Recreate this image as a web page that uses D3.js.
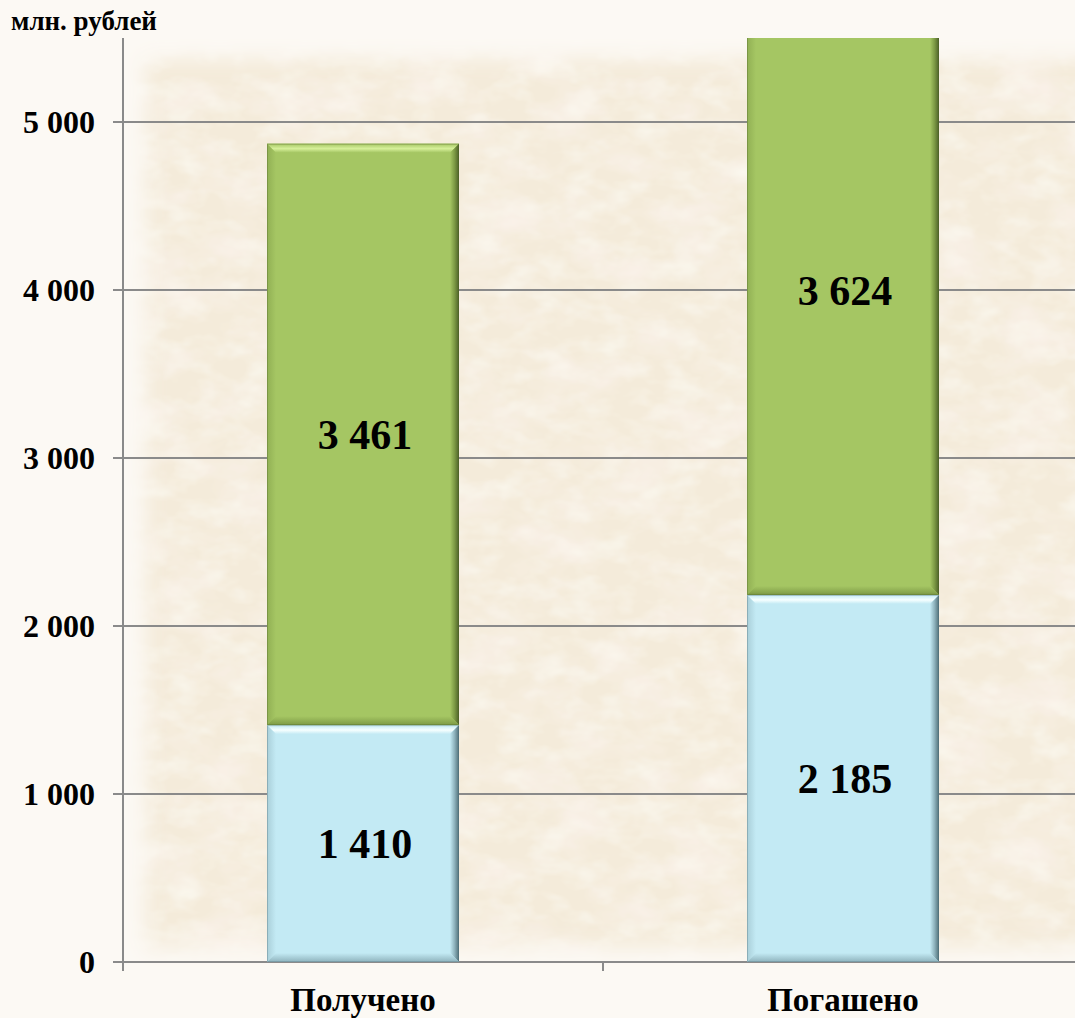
<!DOCTYPE html>
<html><head><meta charset="utf-8">
<script src="https://cdn.jsdelivr.net/npm/d3@7"></script>
<style>html,body{margin:0;padding:0;background:#fcf9f4;}svg{display:block;}</style>
</head><body>
<script>
const categories = ["Получено", "Погашено"];
const seriesBottom = [1410, 2185];
const seriesTop = [3461, 3624];
const yTicks = [0, 1000, 2000, 3000, 4000, 5000];
const unitLabel = "млн. рублей";

const W = 1075, H = 1018;
const m = {left: 123, top: 38, bottom: 962, right: 1083};
const FONT = "'Liberation Serif','Times New Roman',Times,serif";
const svg = d3.select("body").append("svg").attr("width", W).attr("height", H);
const defs = svg.append("defs");

// parchment filter: mottled colour, feathered edges
const f = defs.append("filter").attr("id","parch").attr("filterUnits","userSpaceOnUse")
  .attr("x",100).attr("y",20).attr("width",1000).attr("height",970);
f.append("feGaussianBlur").attr("in","SourceAlpha").attr("stdDeviation",10).attr("result","a");
f.append("feFlood").attr("flood-color","#f4ebda").attr("result","base");
f.append("feTurbulence").attr("type","fractalNoise").attr("baseFrequency","0.015 0.025").attr("numOctaves",4).attr("seed",11).attr("result","n");
f.append("feColorMatrix").attr("in","n").attr("type","matrix")
  .attr("values","0 0 0 0 0.97  0 0 0 0 0.90  0 0 0 0 0.85  0 0 0 1.6 -0.7").attr("result","pink");
f.append("feTurbulence").attr("type","fractalNoise").attr("baseFrequency","0.03 0.05").attr("numOctaves",3).attr("seed",3).attr("result","n2");
f.append("feColorMatrix").attr("in","n2").attr("type","matrix")
  .attr("values","0 0 0 0 0.965  0 0 0 0 0.945  0 0 0 0 0.87  0 0 0 1.5 -0.65").attr("result","cream");
f.append("feComposite").attr("in","pink").attr("in2","base").attr("operator","over").attr("result","b1");
f.append("feComposite").attr("in","cream").attr("in2","b1").attr("operator","over").attr("result","tex");
f.append("feComposite").attr("in","tex").attr("in2","a").attr("operator","in");

const y = d3.scaleLinear().domain([0, 5500]).range([m.bottom, m.top]);
const x = d3.scaleBand().domain(categories).range([m.left, m.right]).paddingInner(0.6).paddingOuter(0.3);

// parchment background
svg.append("rect").attr("x",145).attr("y",58).attr("width",960).attr("height",890)
  .attr("fill","#000").attr("filter","url(#parch)");

// gridlines
svg.append("g").selectAll("line").data(yTicks).join("line")
  .attr("x1", m.left - 10).attr("x2", W).attr("y1", d => y(d)).attr("y2", d => y(d))
  .attr("stroke", "#8a8a8a").attr("stroke-width", 2);

// y axis line
svg.append("line").attr("x1", m.left).attr("x2", m.left).attr("y1", m.top).attr("y2", m.bottom + 9)
  .attr("stroke","#8a8a8a").attr("stroke-width",2);

// category ticks
const step = x.step(), pad = (step - x.bandwidth())/2;
svg.append("g").selectAll("line").data(categories.slice(1)).join("line")
  .attr("x1", d => x(d) - pad).attr("x2", d => x(d) - pad)
  .attr("y1", m.bottom).attr("y2", m.bottom + 9).attr("stroke","#8a8a8a").attr("stroke-width",2);

// gradients for bevels
function grad(id, x1,y1,x2,y2, stops){
  const g = defs.append("linearGradient").attr("id",id).attr("x1",x1).attr("y1",y1).attr("x2",x2).attr("y2",y2);
  stops.forEach(s => g.append("stop").attr("offset",s[0]).attr("stop-color",s[1]));
}
const palettes = {
  green: {base:"#a5c663", hi:"#d6f09a", dk:"#4d6128", mid:"#7d9a45"},
  blue:  {base:"#c3eaf4", hi:"#f6ffff", dk:"#4f6f78", mid:"#8fb3bd"}
};
Object.entries(palettes).forEach(([k,p]) => {
  grad(k+"Top","0","0","0","1",[[0,p.base],[0.55,p.hi],[1,p.base]]);
  grad(k+"Right","0","0","1","0",[[0,p.base],[0.5,p.mid],[1,p.dk]]);
  grad(k+"Bottom","0","0","0","1",[[0,p.base],[1,p.mid]]);
  grad(k+"Left","0","0","1","0",[[0,p.mid],[1,p.base]]);
});

defs.append("clipPath").attr("id","plotclip").append("rect")
  .attr("x", m.left).attr("y", m.top).attr("width", W - m.left).attr("height", m.bottom - m.top + 2);

const segs = [];
categories.forEach((c,i) => {
  segs.push({cat:c, y0:0, y1:seriesBottom[i], v:seriesBottom[i], pal:"blue"});
  segs.push({cat:c, y0:seriesBottom[i], y1:seriesBottom[i]+seriesTop[i], v:seriesTop[i], pal:"green"});
});

const bars = svg.append("g").attr("clip-path","url(#plotclip)");
const bv = 9;
segs.forEach(s => {
  const x0 = x(s.cat), w = x.bandwidth();
  const top = y(s.y1), bot = y(s.y0), h = bot - top;
  const g = bars.append("g");
  const p = palettes[s.pal];
  g.append("rect").attr("x",x0).attr("y",top).attr("width",w).attr("height",h).attr("fill",p.base);
  const X0=x0, X1=x0+w, Y0=top, Y1=bot;
  g.append("polygon").attr("points",[[X0,Y0],[X1,Y0],[X1-bv,Y0+bv],[X0+bv,Y0+bv]].join(" ")).attr("fill","url(#"+s.pal+"Top)");
  g.append("polygon").attr("points",[[X1,Y0],[X1,Y1],[X1-bv,Y1-bv],[X1-bv,Y0+bv]].join(" ")).attr("fill","url(#"+s.pal+"Right)");
  g.append("polygon").attr("points",[[X0,Y1],[X1,Y1],[X1-bv,Y1-bv],[X0+bv,Y1-bv]].join(" ")).attr("fill","url(#"+s.pal+"Bottom)");
  g.append("polygon").attr("points",[[X0,Y0],[X0+bv,Y0+bv],[X0+bv,Y1-bv],[X0,Y1]].join(" ")).attr("fill","url(#"+s.pal+"Left)").attr("opacity",0.5);
  g.append("rect").attr("x",X0+0.5).attr("y",Y0+0.5).attr("width",w-1).attr("height",h-1)
    .attr("fill","none").attr("stroke",p.dk).attr("stroke-opacity",0.35).attr("stroke-width",1);
});

// value labels
const fmt = v => d3.format(",")(v).replace(/,/g, " ");
svg.append("g").selectAll("text").data(segs).join("text")
  .attr("x", d => x(d.cat) + x.bandwidth()/2 + 2)
  .attr("y", d => y((d.y0 + d.y1)/2))
  .attr("dy", "0.35em")
  .attr("text-anchor","middle")
  .attr("font-family", FONT)
  .attr("font-weight","bold").attr("font-size",42).attr("fill","#000")
  .text(d => fmt(d.v));

// y tick labels
svg.append("g").selectAll("text").data(yTicks).join("text")
  .attr("x", 95).attr("y", d => y(d)).attr("dy","0.35em")
  .attr("text-anchor","end")
  .attr("font-family", FONT)
  .attr("font-weight","bold").attr("font-size",32).attr("fill","#000")
  .text(d => fmt(d));

// category labels
svg.append("g").selectAll("text").data(categories).join("text")
  .attr("x", d => x(d) + x.bandwidth()/2).attr("y", 1011)
  .attr("text-anchor","middle")
  .attr("font-family", FONT)
  .attr("font-weight","bold").attr("font-size",33).attr("fill","#000")
  .text(d => d);

// unit label
svg.append("text").attr("x", 11).attr("y", 30)
  .attr("font-family", FONT)
  .attr("font-weight","bold").attr("font-size",27).attr("fill","#000")
  .text(unitLabel);
</script>
</body></html>
